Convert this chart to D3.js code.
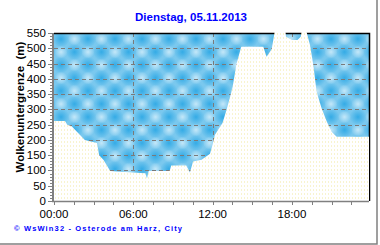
<!DOCTYPE html>
<html>
<head>
<meta charset="utf-8">
<script src="https://cdnjs.cloudflare.com/ajax/libs/d3/7.8.5/d3.min.js"></script>
<style>
  body { margin: 0; background: #fff; }
  text { font-family: "Liberation Sans", Arial, sans-serif; }
</style>
</head>
<body>
<div id="chart"></div>
<script>
var times = ["00:00","00:50","01:00","01:20","02:20","03:15","03:25","03:45","04:15","06:30",
             "06:55","07:02","07:10","08:45","08:52","10:00","10:17","10:31","11:10","11:48",
             "12:00","12:10","12:45","13:03","13:30","13:48","14:10","15:50","16:05","16:28",
             "16:43","17:30","17:33","18:00","18:25","18:40","18:45","19:04","19:22","19:37",
             "19:52","20:15","20:38","21:00","21:23","23:50"];
var cloudBase = [262,262,250,245,200,190,150,134,98,92,
                 91,74,98,98,116,116,93,129,135,155,
                 185,216,255,298,370,448,505,505,472,497,
                 560,560,538,527,527,538,560,560,511,445,
                 358,303,260,227,210,210];
var yTicks = [0,50,100,150,200,250,300,350,400,450,500,550];
var xLabels = ["00:00","06:00","12:00","18:00"];
var title = "Dienstag, 05.11.2013";
var yTitle = "Wolkenuntergrenze\u00a0\u00a0(m)";
var footer = "\u00a9 WsWin32  -  Osterode am Harz, City";

(function() {
  var width = 380, height = 245;
  var margin = { top: 33, left: 54, right: 11, bottom: 44 };

  function hours(s) {
    var p = s.split(":");
    return +p[0] + p[1] / 60;
  }

  var data = times.map(function(t, i) { return { h: hours(t), v: cloudBase[i] }; });

  var x = d3.scaleLinear().domain([0, 23.83]).range([margin.left, width - margin.right]);
  var y = d3.scaleLinear().domain([0, 550]).range([height - margin.bottom, margin.top]);

  var svg = d3.select("#chart").append("svg")
    .attr("width", width)
    .attr("height", height);

  var defs = svg.append("defs");

  // cloud texture
  var g1 = defs.append("radialGradient").attr("id", "dark");
  g1.append("stop").attr("offset", "0%").attr("stop-color", "#28a6e4").attr("stop-opacity", 0.85);
  g1.append("stop").attr("offset", "100%").attr("stop-color", "#28a6e4").attr("stop-opacity", 0);
  var g2 = defs.append("radialGradient").attr("id", "light");
  g2.append("stop").attr("offset", "0%").attr("stop-color", "#d6effb").attr("stop-opacity", 0.8);
  g2.append("stop").attr("offset", "100%").attr("stop-color", "#d6effb").attr("stop-opacity", 0);

  var cloud = defs.append("pattern")
    .attr("id", "cloud")
    .attr("patternUnits", "userSpaceOnUse")
    .attr("x", margin.left).attr("y", margin.top)
    .attr("width", 27).attr("height", 26);
  cloud.append("rect").attr("width", 27).attr("height", 26).attr("fill", "#7ac8ee");
  [[7,6],[20.5,19],[-6.5,19],[34,6],[7,32],[20.5,-7]].forEach(function(c) {
    cloud.append("circle").attr("cx", c[0]).attr("cy", c[1]).attr("r", 8.5).attr("fill", "url(#dark)");
  });
  [[20.5,6],[7,19],[-6.5,6],[34,19],[20.5,32],[7,-7]].forEach(function(c) {
    cloud.append("circle").attr("cx", c[0]).attr("cy", c[1]).attr("r", 6.5).attr("fill", "url(#light)");
  });

  // dotted ground
  var dots = defs.append("pattern")
    .attr("id", "dots")
    .attr("patternUnits", "userSpaceOnUse")
    .attr("x", margin.left).attr("y", margin.top)
    .attr("width", 3).attr("height", 4);
  dots.append("rect").attr("width", 3).attr("height", 4).attr("fill", "#fff");
  dots.append("rect").attr("x", 1).attr("width", 1).attr("height", 2).attr("fill", "#f8f4cf");

  defs.append("clipPath").attr("id", "plotclip")
    .append("rect")
    .attr("x", margin.left).attr("y", margin.top - 2)
    .attr("width", x.range()[1] - margin.left)
    .attr("height", y(0) - margin.top + 2);

  // background
  svg.append("rect")
    .attr("x", margin.left).attr("y", margin.top)
    .attr("width", x.range()[1] - margin.left)
    .attr("height", y(0) - margin.top)
    .attr("fill", "url(#cloud)");

  // grid
  svg.selectAll(".hgrid")
    .data(yTicks.filter(function(d) { return d > 50 && d < 550; }))
    .enter().append("line")
    .attr("x1", margin.left).attr("x2", x.range()[1])
    .attr("y1", function(d) { return Math.round(y(d)) + 0.5; })
    .attr("y2", function(d) { return Math.round(y(d)) + 0.5; })
    .attr("stroke", "#7a7a7a").attr("stroke-dasharray", "4,3");

  svg.selectAll(".vgrid")
    .data(xLabels.slice(1))
    .enter().append("line")
    .attr("x1", function(d) { return Math.round(x(hours(d))) + 0.5; })
    .attr("x2", function(d) { return Math.round(x(hours(d))) + 0.5; })
    .attr("y1", margin.top).attr("y2", y(0))
    .attr("stroke", "#7a7a7a").attr("stroke-dasharray", "4,3");

  // border
  svg.append("path")
    .attr("d", "M" + margin.left + "," + (margin.top + 0.5) + "H" + (x.range()[1] + 0.5) + "V" + y(0))
    .attr("fill", "none").attr("stroke", "#000").attr("stroke-width", 1.5);

  // area below cloud base
  var area = d3.area()
    .x(function(d) { return x(d.h); })
    .y0(y(0))
    .y1(function(d) { return y(d.v); });

  svg.append("path")
    .datum(data)
    .attr("clip-path", "url(#plotclip)")
    .attr("d", area)
    .attr("fill", "url(#dots)");

  // axes
  var yMinor = d3.range(0, 551, 10);
  svg.selectAll(".ymin")
    .data(yMinor)
    .enter().append("line")
    .attr("x1", function(d) { return d % 50 === 0 ? margin.left - 6 : margin.left - 4; })
    .attr("x2", margin.left)
    .attr("y1", function(d) { return Math.round(y(d)) + 0.5; })
    .attr("y2", function(d) { return Math.round(y(d)) + 0.5; })
    .attr("stroke", "#808080");

  svg.append("line")
    .attr("x1", margin.left - 1).attr("x2", margin.left - 1)
    .attr("y1", margin.top).attr("y2", y(0) + 1)
    .attr("stroke", "#808080").attr("stroke-width", 2);

  svg.append("line")
    .attr("x1", margin.left - 2).attr("x2", x.range()[1])
    .attr("y1", y(0) + 0.5).attr("y2", y(0) + 0.5)
    .attr("stroke", "#808080").attr("stroke-width", 1.5);

  svg.selectAll(".xtick")
    .data(d3.range(0, 23.83, 1.5))
    .enter().append("line")
    .attr("x1", function(d) { return Math.round(x(d)) + 0.5; })
    .attr("x2", function(d) { return Math.round(x(d)) + 0.5; })
    .attr("y1", y(0)).attr("y2", y(0) + 4)
    .attr("stroke", "#808080");

  svg.selectAll(".ylab")
    .data(yTicks)
    .enter().append("text")
    .attr("x", margin.left - 8)
    .attr("y", function(d) { return y(d) + 4; })
    .attr("text-anchor", "end")
    .attr("font-size", 11.5)
    .attr("fill", "#000")
    .text(function(d) { return d; });

  svg.selectAll(".xlab")
    .data(xLabels)
    .enter().append("text")
    .attr("x", function(d) { return x(hours(d)); })
    .attr("y", 218)
    .attr("text-anchor", "middle")
    .attr("font-size", 11.5)
    .text(function(d) { return d; });

  svg.append("text")
    .attr("transform", "translate(24,107) rotate(-90)")
    .attr("text-anchor", "middle")
    .attr("font-size", 11.5)
    .attr("font-weight", "bold")
    .text(yTitle);

  svg.append("text")
    .attr("x", 191).attr("y", 21)
    .attr("text-anchor", "middle")
    .attr("font-size", 11.5)
    .attr("font-weight", "bold")
    .attr("fill", "#0000ff")
    .text(title);

  svg.append("text")
    .attr("x", 14).attr("y", 231)
    .attr("font-size", 7.5)
    .attr("font-weight", "bold")
    .attr("fill", "#0000ff")
    .attr("textLength", 168)
    .attr("lengthAdjust", "spacing")
    .text(footer);

  // outer frame shadow
  svg.append("path")
    .attr("d", "M377,0V244H0")
    .attr("fill", "none").attr("stroke", "#808080").attr("stroke-width", 1.5);
})();
</script>
</body>
</html>
